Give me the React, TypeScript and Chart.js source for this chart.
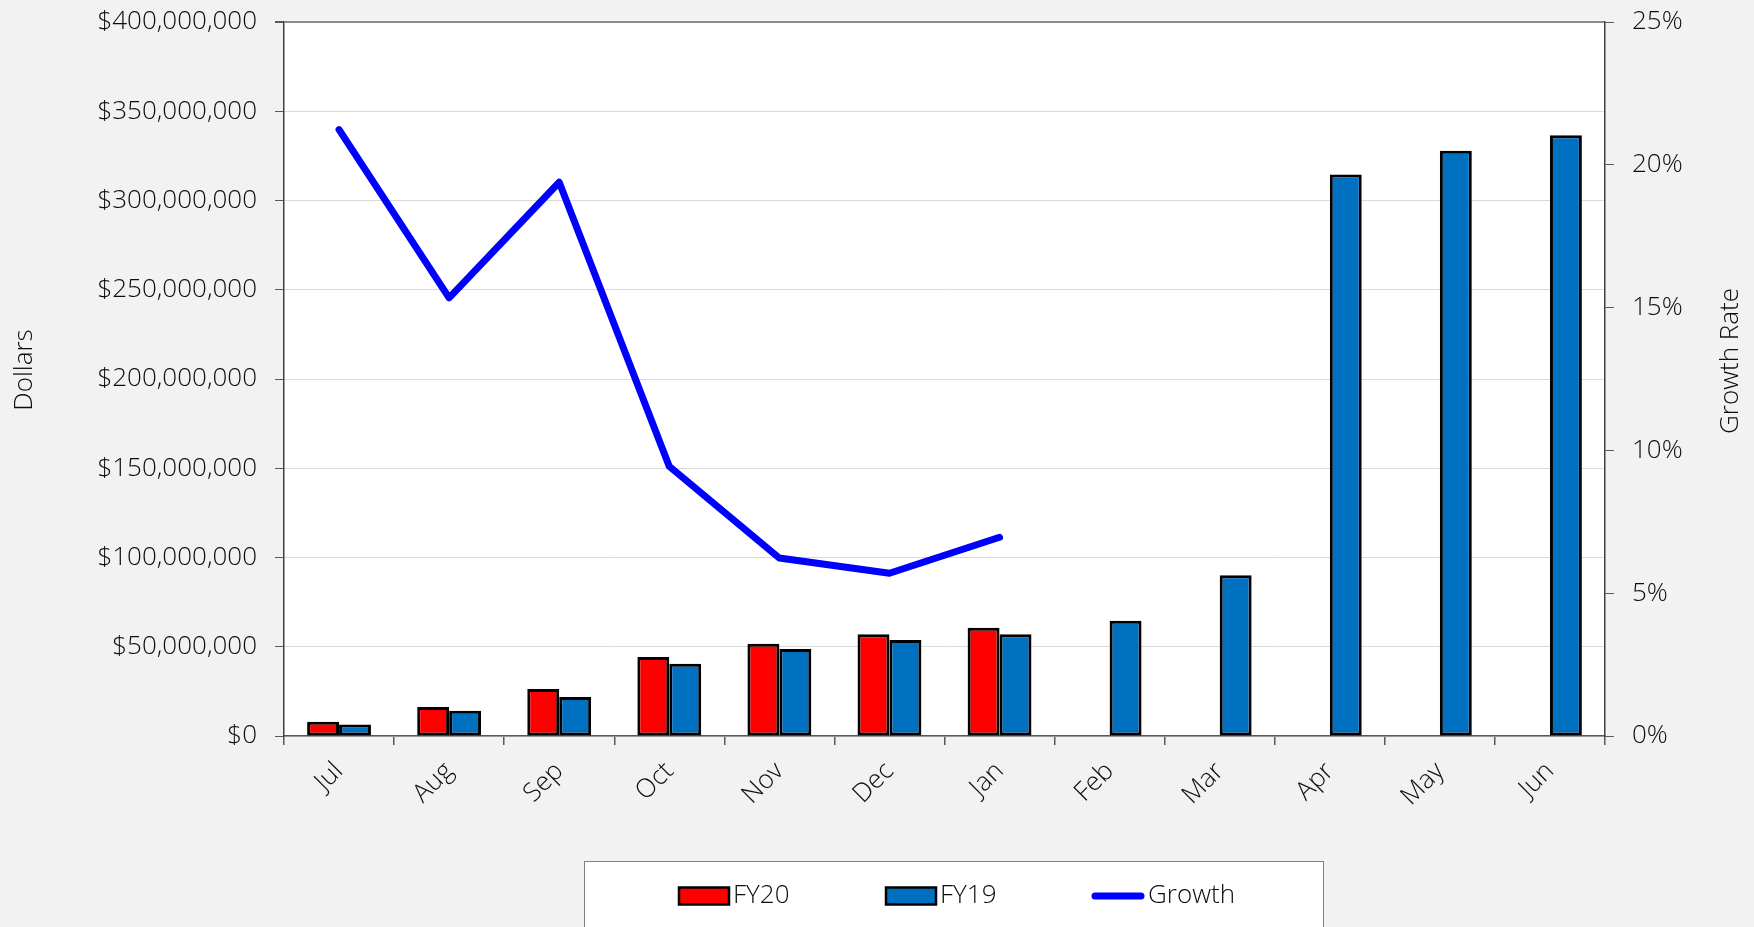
import React, { useEffect, useRef } from 'react';
import { Chart, registerables } from 'chart.js';

Chart.register(...registerables);

const months = ['Jul', 'Aug', 'Sep', 'Oct', 'Nov', 'Dec', 'Jan', 'Feb', 'Mar', 'Apr', 'May', 'Jun'];
const fy20 = [8.0e6, 16.3e6, 26.3e6, 44.3e6, 51.7e6, 57.0e6, 60.7e6, null, null, null, null, null];
const fy19 = [6.5e6, 14.2e6, 21.9e6, 40.5e6, 48.8e6, 53.8e6, 57.0e6, 64.5e6, 90.1e6, 314.5e6, 327.9e6, 336.5e6];
const growth = [21.23, 15.34, 19.39, 9.44, 6.23, 5.7, 6.96, null, null, null, null, null];
const dollarMax = 400e6;
const dollarStep = 50e6;
const rateMax = 25;
const rateStep = 5;
const leftTitle = 'Dollars';
const rightTitle = 'Growth Rate';

const FONT = "'Open Sans', 'Noto Sans', sans-serif";
const TEXT = '#0D0D0D';
const FS = 26;

const bgPlugin = {
  id: 'bg',
  beforeDraw(chart: any) {
    const { ctx, chartArea } = chart;
    ctx.save();
    ctx.fillStyle = '#F2F2F2';
    ctx.fillRect(0, 0, chart.width, chart.height);
    ctx.fillStyle = '#FFFFFF';
    ctx.fillRect(chartArea.left, chartArea.top, chartArea.right - chartArea.left, chartArea.bottom - chartArea.top);
    ctx.restore();
  },
};

const titlesPlugin = {
  id: 'axisTitles',
  afterDraw(chart: any) {
    const { ctx } = chart;
    const draw = (text: string, x: number, y: number) => {
      ctx.save();
      ctx.fillStyle = TEXT;
      ctx.font = `300 ${FS}px ${FONT}`;
      ctx.textAlign = 'center';
      ctx.textBaseline = 'middle';
      ctx.translate(x, y);
      ctx.rotate(-Math.PI / 2);
      ctx.fillText(text, 0, 0);
      ctx.restore();
    };
    draw(leftTitle, 25, 370);
    draw(rightTitle, 1731, 361);
  },
};

const legendPlugin = {
  id: 'customLegend',
  afterDraw(chart: any) {
    const { ctx } = chart;
    ctx.save();
    ctx.fillStyle = '#FFFFFF';
    ctx.strokeStyle = '#808080';
    ctx.lineWidth = 1;
    ctx.fillRect(584.5, 861.5, 739, 80);
    ctx.strokeRect(584.5, 861.5, 739, 80);
    const ds = chart.data.datasets;
    const cy = 896;
    ctx.font = `300 ${FS}px ${FONT}`;
    ctx.textBaseline = 'middle';
    ctx.textAlign = 'left';
    const items = [
      { d: ds[0], x: 679, tx: 733 },
      { d: ds[1], x: 886, tx: 940 },
      { d: ds[2], x: 1091, tx: 1148 },
    ];
    items.forEach(({ d, x, tx }) => {
      if (d.type === 'line') {
        ctx.strokeStyle = d.borderColor;
        ctx.lineWidth = 7;
        ctx.lineCap = 'round';
        ctx.beginPath();
        ctx.moveTo(x + 4, cy);
        ctx.lineTo(x + 50, cy);
        ctx.stroke();
      } else {
        ctx.fillStyle = d.backgroundColor;
        ctx.fillRect(x, cy - 8.5, 50, 17);
        ctx.strokeStyle = '#000';
        ctx.lineWidth = 2.5;
        ctx.strokeRect(x, cy - 8.5, 50, 17);
      }
      ctx.fillStyle = TEXT;
      ctx.fillText(d.label, tx, cy);
    });
    ctx.restore();
  },
};

export default function App() {
  const ref = useRef<HTMLCanvasElement>(null);

  useEffect(() => {
    document.body.style.margin = '0';
    document.body.style.background = '#F2F2F2';
    document.body.style.overflow = 'hidden';
    const canvas = ref.current!;
    const tickFont = { family: FONT, size: FS, weight: '300' as any };
    const chart = new Chart(canvas, {
      type: 'bar',
      data: {
        labels: months,
        datasets: [
          {
            type: 'bar',
            label: 'FY20',
            data: fy20,
            backgroundColor: '#FF0000',
            borderColor: '#000000',
            borderWidth: 3,
            borderSkipped: false,
            yAxisID: 'y',
            order: 1,
            barPercentage: 1,
            categoryPercentage: 0.58,
          },
          {
            type: 'bar',
            label: 'FY19',
            data: fy19,
            backgroundColor: '#0070C0',
            borderColor: '#000000',
            borderWidth: 3,
            borderSkipped: false,
            yAxisID: 'y',
            order: 2,
            barPercentage: 1,
            categoryPercentage: 0.58,
          },
          {
            type: 'line',
            label: 'Growth',
            data: growth,
            borderColor: '#0000FF',
            backgroundColor: '#0000FF',
            borderWidth: 7,
            borderCapStyle: 'round',
            borderJoinStyle: 'round',
            pointRadius: 0,
            pointHoverRadius: 0,
            tension: 0,
            yAxisID: 'y1',
            order: 0,
          },
        ] as any,
      },
      options: {
        responsive: false,
        animation: false,
        devicePixelRatio: 1,
        layout: { padding: { top: 22, left: 0, right: 0, bottom: 0 } },
        plugins: {
          legend: { display: false },
          tooltip: { enabled: false },
        },
        scales: {
          x: {
            type: 'category',
            offset: true,
            grid: {
              offset: true,
              drawOnChartArea: false,
              drawTicks: true,
              tickLength: 9,
              tickColor: '#595959',
              lineWidth: 1.5,
            },
            border: { color: '#595959', width: 1.5 },
            ticks: {
              minRotation: 45,
              maxRotation: 45,
              padding: 11,
              color: TEXT,
              font: tickFont,
            },
            afterFit: (s: any) => {
              s.height = 927 - 736;
              s.paddingLeft = 0;
              s.paddingRight = 0;
            },
          },
          y: {
            type: 'linear',
            position: 'left',
            min: 0,
            max: dollarMax,
            grid: {
              color: (c: any) => (c.tick && c.tick.value === dollarMax ? '#8C8C8C' : '#D9D9D9'),
              lineWidth: (c: any) => (c.tick && c.tick.value === dollarMax ? 2 : 1),
              tickLength: 9,
              tickColor: '#595959',
            },
            border: { color: '#404040', width: 1.5 },
            ticks: {
              stepSize: dollarStep,
              padding: 18,
              color: TEXT,
              font: tickFont,
              callback: (v: any) => '$' + Number(v).toLocaleString('en-US'),
            },
            afterFit: (s: any) => {
              s.width = 284;
              s.paddingTop = 0;
              s.paddingBottom = 0;
            },
          },
          y1: {
            type: 'linear',
            position: 'right',
            min: 0,
            max: rateMax,
            grid: {
              drawOnChartArea: false,
              tickLength: 9,
              tickColor: '#595959',
            },
            border: { color: '#404040', width: 1.5 },
            ticks: {
              stepSize: rateStep,
              padding: 18,
              color: TEXT,
              font: tickFont,
              callback: (v: any) => v + '%',
            },
            afterFit: (s: any) => {
              s.width = 1754 - 1605;
              s.paddingTop = 0;
              s.paddingBottom = 0;
            },
          },
        },
      } as any,
      plugins: [bgPlugin, titlesPlugin, legendPlugin],
    });
    return () => chart.destroy();
  }, []);

  return (
    <div style={{ width: 1754, height: 927, background: '#F2F2F2' }}>
      <canvas ref={ref} width={1754} height={927} style={{ display: 'block' }} />
    </div>
  );
}
